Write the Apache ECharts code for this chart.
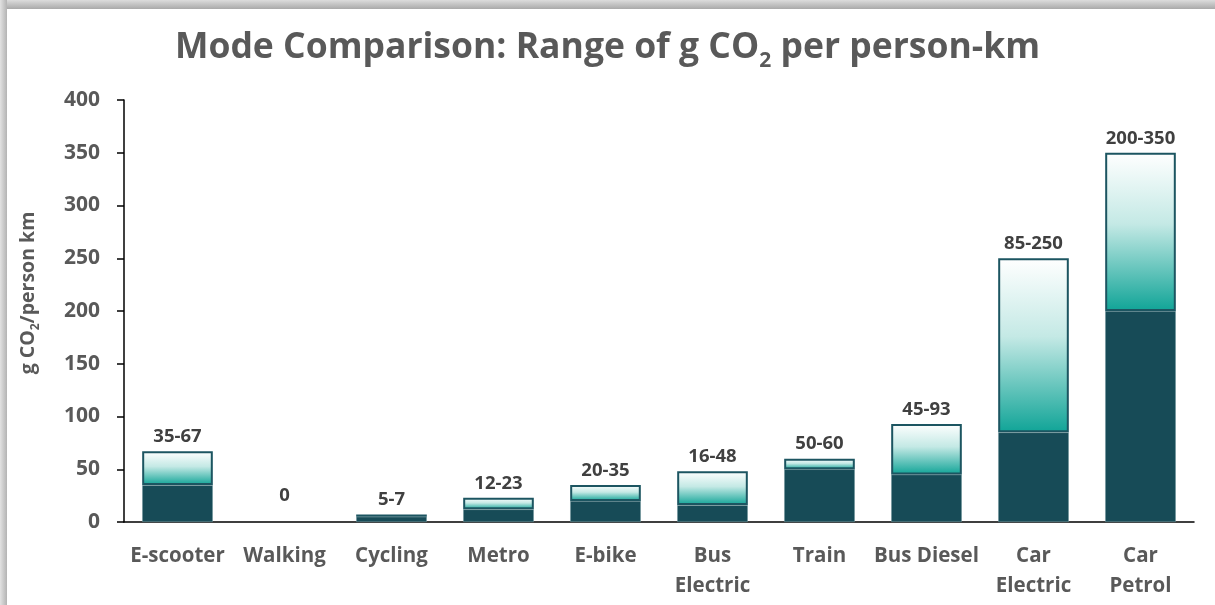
<!DOCTYPE html>
<html>
<head>
<meta charset="utf-8">
<title>Mode Comparison</title>
<script src="https://cdn.jsdelivr.net/npm/echarts@6/dist/echarts.min.js"></script>
<style>
    html, body { margin: 0; padding: 0; background: #fff; }
    #main { position: absolute; left: 0; top: 0; width: 1215px; height: 605px; }
    .edge-top { position: absolute; left: 0; top: 0; width: 1215px; height: 9px;
        background: linear-gradient(to bottom, #dcdcdc, #a9a9a9); z-index: 2; }
    .edge-left { position: absolute; left: 0; top: 0; width: 7px; height: 605px;
        background: linear-gradient(to right, #e2e2e2, #b3b3b3); z-index: 2; }
</style>
</head>
<body>
<div class="edge-top"></div>
<div class="edge-left"></div>
<div id="main"></div>
<script>
// categories and ranges (g CO2 per person-km)
var modes = ['E-scooter', 'Walking', 'Cycling', 'Metro', 'E-bike', 'Bus\nElectric', 'Train', 'Bus Diesel', 'Car\nElectric', 'Car\nPetrol'];
var lowValues = [35, 0, 5, 12, 20, 16, 50, 45, 85, 200];
var highValues = [67, 0, 7, 23, 35, 48, 60, 93, 250, 350];
var rangeLabels = ['35-67', '0', '5-7', '12-23', '20-35', '16-48', '50-60', '45-93', '85-250', '200-350'];
var yTicks = [0, 50, 100, 150, 200, 250, 300, 350, 400];

var font = '"Open Sans", "Noto Sans", sans-serif';

// lower part, no outline where the value is 0
var lower = lowValues.map(function (v) {
    var item = { value: v };
    if (v === 0) {
        item.itemStyle = { borderWidth: 0 };
    }
    return item;
});

// upper part of the stack = high - low
var spread = highValues.map(function (h, i) {
    var item = { value: h - lowValues[i] };
    if (h === 0) {
        item.itemStyle = { borderWidth: 0 };
        item.label = { distance: 17 };
    }
    return item;
});

var myChart = echarts.init(document.getElementById('main'));

myChart.setOption({
    backgroundColor: 'transparent',
    animation: false,
    title: {
        text: 'Mode Comparison: Range of g CO{sub|2} per person-km',
        left: 'center',
        top: 25,
        textStyle: {
            fontFamily: font,
            fontSize: 35.5,
            fontWeight: 'bold',
            color: '#595959',
            rich: {
                sub: {
                    fontFamily: font,
                    fontSize: 21,
                    fontWeight: 'bold',
                    color: '#595959',
                    verticalAlign: 'bottom',
                    padding: [0, 0, -6, 0]
                }
            }
        }
    },
    grid: {
        left: 124,
        right: 21,
        top: 100,
        bottom: 83
    },
    xAxis: {
        type: 'category',
        data: modes,
        axisLine: { lineStyle: { color: '#000', width: 1.5 } },
        axisTick: { length: 7, lineStyle: { color: '#000', width: 1.5 } },
        axisLabel: {
            margin: 19,
            fontFamily: font,
            fontSize: 20.5,
            fontWeight: 'bold',
            color: '#595959',
            lineHeight: 30,
            interval: 0
        }
    },
    yAxis: {
        type: 'value',
        min: yTicks[0],
        max: yTicks[yTicks.length - 1],
        interval: 50,
        name: 'g CO{sub|2}/person km',
        nameLocation: 'middle',
        nameGap: 86,
        nameRotate: 90,
        nameTextStyle: {
            fontFamily: font,
            fontSize: 19.5,
            fontWeight: 'bold',
            color: '#595959',
            padding: [0, 0, 0, 36],
            rich: {
                sub: {
                    fontFamily: font,
                    fontSize: 12,
                    fontWeight: 'bold',
                    color: '#595959',
                    verticalAlign: 'bottom',
                    padding: [0, 0, -4, 0]
                }
            }
        },
        splitLine: { show: false },
        axisLine: { show: true, lineStyle: { color: '#000', width: 1.5 } },
        axisTick: { show: true, length: 7, lineStyle: { color: '#000', width: 1.5 } },
        axisLabel: {
            margin: 24,
            fontFamily: font,
            fontSize: 21,
            fontWeight: 'bold',
            color: '#595959'
        }
    },
    series: [
        {
            name: 'low',
            type: 'bar',
            stack: 'range',
            data: lower,
            barCategoryGap: '34%',
            itemStyle: {
                color: '#174b57',
                borderColor: '#6e949b',
                borderWidth: 0.6
            }
        },
        {
            name: 'high',
            type: 'bar',
            stack: 'range',
            data: spread,
            itemStyle: {
                color: new echarts.graphic.LinearGradient(0, 0, 0, 1, [
                    { offset: 0, color: '#ffffff' },
                    { offset: 0.45, color: '#c4e9e5' },
                    { offset: 1, color: '#10a497' }
                ]),
                borderColor: '#1c5561',
                borderWidth: 2
            },
            label: {
                show: true,
                position: 'top',
                distance: 5,
                fontFamily: font,
                fontSize: 18.5,
                fontWeight: 'bold',
                color: '#404040',
                formatter: function (p) {
                    return rangeLabels[p.dataIndex];
                }
            }
        }
    ]
});
</script>
</body>
</html>
